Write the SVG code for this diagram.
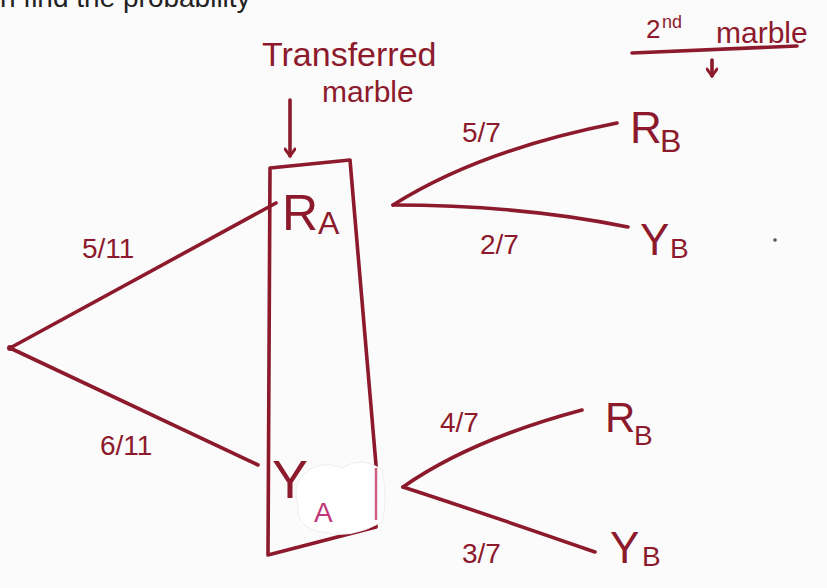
<svg xmlns="http://www.w3.org/2000/svg" width="827" height="588" viewBox="0 0 827 588">
<defs>
<style>
.ink{fill:none;stroke:#8c1a2c;stroke-width:3.6;stroke-linecap:round;stroke-linejoin:round}
.t{fill:#8c1a2c;font-family:"Liberation Sans","DejaVu Sans",sans-serif}
.big{font-size:50px}
.sub{font-size:32px}
.frac{font-size:28px}
</style>
<marker id="ah" viewBox="0 0 12 12" refX="10" refY="6" markerWidth="12" markerHeight="12" markerUnits="userSpaceOnUse" orient="auto">
<path d="M3,1 L10,6 L3,11" fill="none" stroke="#8c1a2c" stroke-width="3" stroke-linecap="round" stroke-linejoin="round"/>
</marker>
</defs>
<rect width="827" height="588" fill="#fbfbfb"/>
<text x="0" y="7" font-family="Liberation Sans, sans-serif" font-size="28" fill="#222">n find the probability</text>

<g id="connectors">
<path class="ink" d="M10,348 L276,203"/>
<path class="ink" d="M10,348 L258,465"/>
<path class="ink" d="M393,205 Q480,150 617,123"/>
<path class="ink" d="M393,205 Q520,205 628,227"/>
<path class="ink" d="M403,487 Q470,440 582,410"/>
<path class="ink" d="M403,487 Q480,512 595,552"/>
<text class="t frac" x="82" y="258">5/11</text>
<text class="t frac" x="100" y="455">6/11</text>
<text class="t frac" x="462" y="142">5/7</text>
<text class="t frac" x="480" y="254">2/7</text>
<text class="t frac" x="440" y="432">4/7</text>
<text class="t frac" x="462" y="563">3/7</text>
</g>

<g id="header-transferred">
<text class="t" x="262" y="66" font-size="34">Transferred</text>
<text class="t" x="322" y="102" font-size="30">marble</text>
<path class="ink" d="M290,100 L290,156" marker-end="url(#ah)"/>
</g>

<g id="header-second">
<text class="t" x="646" y="38" font-size="26">2</text>
<text class="t" x="662" y="28" font-size="18">nd</text>
<text class="t" x="716" y="43" font-size="30">marble</text>
<path class="ink" d="M632,53 L797,46"/>
<path class="ink" d="M712,60 L712,76" marker-end="url(#ah)" stroke-width="3"/>
</g>

<g id="box">
<path class="ink" d="M270,168 L350,160 L376,465 L376,527 L268,555 Z"/>
</g>

<g id="root"><circle cx="10" cy="348" r="3" fill="#8c1a2c"/></g>

<g id="RA">
<text class="t big" x="282" y="230">R</text>
<text class="t sub" x="318" y="234">A</text>
</g>

<g id="YA">
<path d="M300,478 Q318,458 342,468 Q362,455 382,470 Q388,500 382,522 Q350,540 322,532 Q296,528 298,505 Q293,490 300,478 Z" fill="#ffffff" stroke="#eeeeee" stroke-width="1"/>
<path d="M376,468 L376,520" stroke="#d0607f" stroke-width="2.5" fill="none"/>
<text class="t" x="272" y="498" font-size="54">Y</text>
<text x="314" y="522" font-family="Liberation Sans, sans-serif" font-size="28" fill="#c0387a">A</text>
</g>

<g id="RB1">
<text class="t" x="630" y="143" font-size="44">R</text>
<text class="t sub" x="660" y="152">B</text>
</g>
<g id="YB1">
<text class="t" x="640" y="255" font-size="44">Y</text>
<text class="t" x="670" y="258" font-size="28">B</text>
</g>
<g id="RB2">
<text class="t" x="605" y="432" font-size="42">R</text>
<text class="t" x="634" y="445" font-size="28">B</text>
</g>
<g id="YB2">
<text class="t" x="610" y="563" font-size="44">Y</text>
<text class="t" x="642" y="566" font-size="28">B</text>
</g>
<circle cx="775" cy="240" r="1.8" fill="#555"/>
</svg>
